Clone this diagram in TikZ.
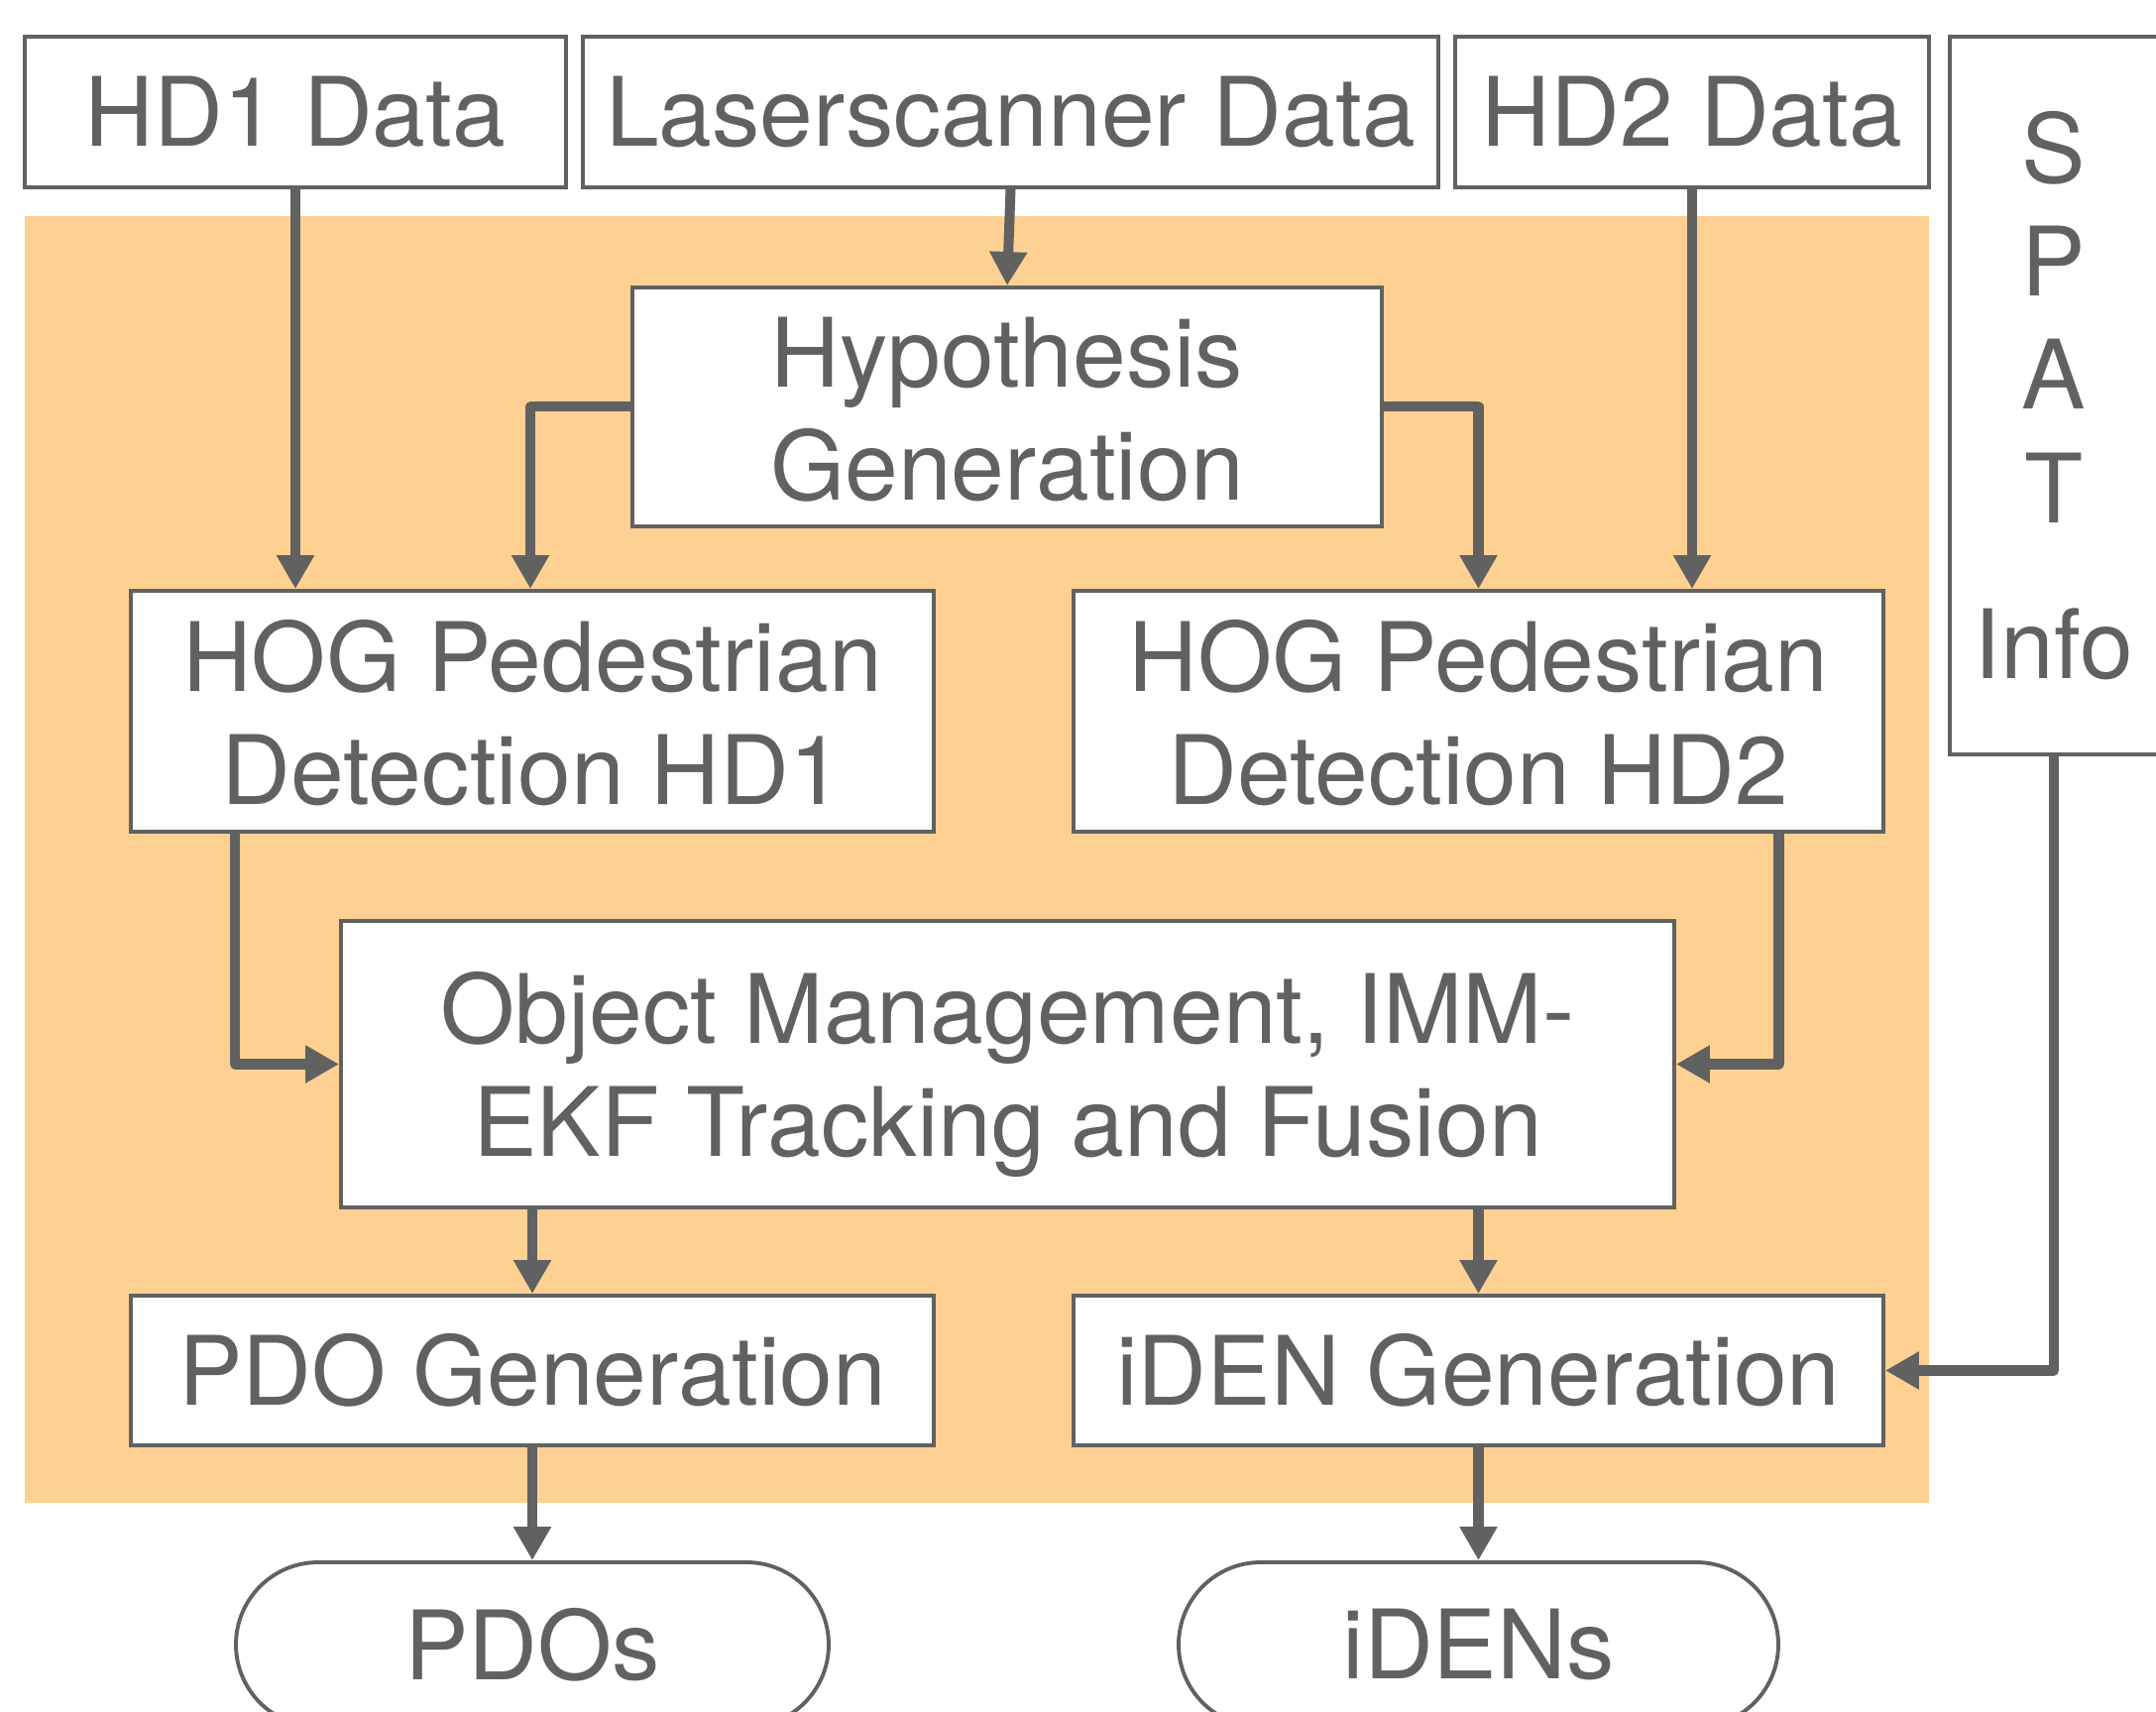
\documentclass[tikz,border=0pt]{standalone}
\usepackage{fontspec}
\setmainfont{TeX Gyre Heros}
\usepackage{xcolor}
\usepackage{tikz}
\usetikzlibrary{positioning,arrows.meta,shapes.misc}
\definecolor{ink}{HTML}{616161}
\definecolor{bgorange}{HTML}{FED193}

\begin{document}
\begin{tikzpicture}[
  font=\fontsize{27.5}{32.5}\selectfont, text=ink,
  bx/.style={draw=ink, line width=1.1pt, fill=white, inner sep=0pt, align=center},
  tm/.style={bx, rounded rectangle},
  ar/.style={draw=ink, line width=2.85pt, line join=round,
    -{Triangle[length=3.4mm, width=3.6mm]}}]
\useasboundingbox (0,0) rectangle (21.75,-17.27);
\fill[bgorange] (0.25,-2.18) rectangle (19.46,-15.16);
\node[bx, minimum width=5.46cm, minimum height=1.52cm] (hd1) at (2.98,-1.13) {HD1 Data};
\node[bx, minimum width=8.63cm, minimum height=1.52cm] (ls) at (10.195,-1.13) {Laserscanner Data};
\node[bx, minimum width=4.78cm, minimum height=1.52cm] (hd2) at (17.07,-1.13) {HD2 Data};
\node[bx, minimum width=2.10cm, minimum height=7.24cm] (spat) at (20.72,-3.99) {S\\P\\A\\T\\[4.3mm]Info};
\node[bx, minimum width=7.56cm, minimum height=2.41cm] (hyp) at (10.16,-4.105) {\rule{0pt}{7.6mm}Hypothesis\\Generation};
\node[bx, minimum width=8.10cm, minimum height=2.43cm] (hog1) at (5.37,-7.175) {\rule{0pt}{7.6mm}HOG Pedestrian\\Detection HD1};
\node[bx, minimum width=8.17cm, minimum height=2.43cm] (hog2) at (14.915,-7.175) {\rule{0pt}{7.6mm}HOG Pedestrian\\Detection HD2};
\node[bx, minimum width=13.45cm, minimum height=2.89cm] (obj) at (10.165,-10.735) {\rule{0pt}{9.3mm}Object Management, IMM-\\EKF Tracking and Fusion};
\node[bx, minimum width=8.10cm, minimum height=1.51cm] (pdo) at (5.37,-13.825) {PDO Generation};
\node[bx, minimum width=8.17cm, minimum height=1.51cm] (iden) at (14.915,-13.825) {iDEN Generation};
\node[tm, minimum width=5.98cm, minimum height=1.66cm] (pdos) at (5.37,-16.59) {PDOs};
\node[tm, minimum width=6.05cm, minimum height=1.66cm] (idens) at (14.915,-16.59) {iDENs};
% inputs
\draw[ar] (hd1.south) -- (hd1.south |- hog1.north);
\draw[ar] (ls.south) -- (hyp.north);
\draw[ar] (hd2.south) -- (hd2.south |- hog2.north);
\draw[ar] (hyp.west) -| ([xshift=-0.02cm]hog1.north);
\draw[ar] (hyp.east) -| (hog2.north);
% fusion
\draw[ar] ([xshift=-3cm]hog1.south) |- (obj.west);
\draw[ar] ([xshift=3.03cm]hog2.south) |- (obj.east);
\draw[ar] (obj.south -| pdo.north) -- (pdo.north);
\draw[ar] (obj.south -| iden.north) -- (iden.north);
\draw[ar] (spat.south) |- (iden.east);
% outputs
\draw[ar] (pdo.south) -- (pdos.north);
\draw[ar] (iden.south) -- (idens.north);
\end{tikzpicture}
\end{document}
